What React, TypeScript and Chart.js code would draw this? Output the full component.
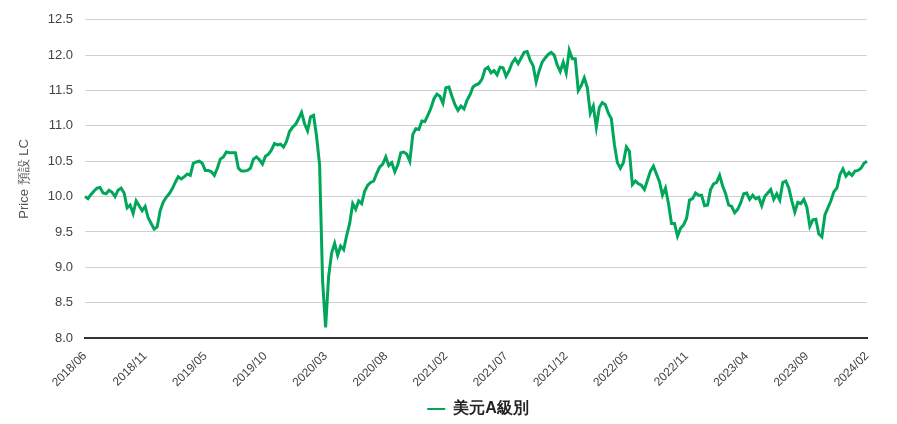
import React, { useEffect, useRef } from "react";
import { Chart, registerables } from "chart.js";

Chart.register(...registerables);

const seriesName = "美元A級別";
const yAxisTitle = "Price 預設 LC";

const tickLabels = [
  "2018/06", "2018/11", "2019/05", "2019/10", "2020/03", "2020/08", "2021/02",
  "2021/07", "2021/12", "2022/05", "2022/11", "2023/04", "2023/09", "2024/02",
];

// NAV readings, evenly spaced in time from 2018/06 to 2024/02
const navValues = [
  10.00, 9.97, 10.03, 10.08, 10.12, 10.13, 10.05, 10.04, 10.09, 10.06,
  10.00, 10.09, 10.12, 10.05, 9.84, 9.88, 9.76, 9.94, 9.87, 9.80,
  9.86, 9.70, 9.62, 9.54, 9.57, 9.80, 9.92, 9.99, 10.04, 10.11,
  10.20, 10.28, 10.25, 10.28, 10.32, 10.30, 10.47, 10.49, 10.50, 10.47,
  10.37, 10.37, 10.35, 10.30, 10.40, 10.53, 10.56, 10.63, 10.62, 10.62,
  10.62, 10.40, 10.36, 10.36, 10.37, 10.40, 10.53, 10.56, 10.52, 10.46,
  10.57, 10.60, 10.66, 10.75, 10.73, 10.74, 10.70, 10.78, 10.92, 10.98,
  11.02, 11.10, 11.19, 11.03, 10.93, 11.13, 11.15, 10.85, 10.45, 8.80,
  8.15, 8.87, 9.20, 9.34, 9.17, 9.30, 9.25, 9.45, 9.62, 9.90,
  9.82, 9.94, 9.90, 10.08, 10.16, 10.20, 10.22, 10.33, 10.42, 10.46,
  10.56, 10.44, 10.48, 10.35, 10.45, 10.62, 10.63, 10.60, 10.50, 10.88,
  10.96, 10.95, 11.07, 11.06, 11.15, 11.25, 11.38, 11.45, 11.42, 11.32,
  11.54, 11.55, 11.42, 11.30, 11.22, 11.28, 11.24, 11.36, 11.44, 11.55,
  11.58, 11.60, 11.66, 11.80, 11.83, 11.75, 11.78, 11.72, 11.83, 11.82,
  11.70, 11.78, 11.89, 11.95, 11.88, 11.96, 12.04, 12.05, 11.93, 11.85,
  11.62, 11.78, 11.90, 11.96, 12.01, 12.04, 12.00, 11.86, 11.77, 11.90,
  11.75, 12.07, 11.95, 11.95, 11.50, 11.57, 11.68, 11.54, 11.18, 11.28,
  10.98, 11.26, 11.33, 11.30, 11.18, 11.10, 10.74, 10.48, 10.40, 10.48,
  10.70, 10.64, 10.17, 10.22, 10.18, 10.16, 10.10, 10.23, 10.36, 10.43,
  10.32, 10.21, 10.02, 10.12, 9.90, 9.62, 9.62, 9.44, 9.55, 9.60,
  9.69, 9.95, 9.97, 10.05, 10.02, 10.02, 9.87, 9.88, 10.10, 10.18,
  10.20, 10.30, 10.15, 10.04, 9.88, 9.86, 9.77, 9.82, 9.91, 10.04,
  10.05, 9.96, 10.02, 9.97, 9.99, 9.87, 10.00, 10.05, 10.10, 9.96,
  10.04, 9.95, 10.20, 10.22, 10.12, 9.94, 9.78, 9.92, 9.90, 9.96,
  9.85, 9.58, 9.67, 9.68, 9.47, 9.43, 9.74, 9.84, 9.94, 10.07,
  10.12, 10.31, 10.39, 10.29, 10.34, 10.30, 10.36, 10.37, 10.40, 10.47,
  10.50,
];

const yMin = 8.0;
const yMax = 12.5;
const yStep = 0.5;

// Centre the legend under the plot area and nudge it down a little.
const legendPlacement = {
  id: "legendPlacement",
  afterLayout(chart: any) {
    const lg = chart.legend;
    if (!lg) return;
    lg.left = chart.chartArea.left + 4;
    lg.right = chart.chartArea.right;
    lg.top += 3;
    lg.bottom += 3;
  },
};

export default function App() {
  const canvasRef = useRef<HTMLCanvasElement | null>(null);

  useEffect(() => {
    document.body.style.margin = "0";
    const canvas = canvasRef.current;
    if (!canvas) return;
    const n = navValues.length;
    const perTick = (n - 1) / (tickLabels.length - 1);
    const categories = navValues.map((_, i) => String(i));
    const font = 'Arial, "Liberation Sans", Helvetica, sans-serif';

    const chart = new Chart(canvas, {
      type: "line",
      data: {
        labels: categories,
        datasets: [
          {
            label: seriesName,
            data: navValues,
            borderColor: "#00a65a",
            backgroundColor: "#00a65a",
            borderWidth: 3,
            pointRadius: 0,
            pointHoverRadius: 0,
            tension: 0,
            fill: false,
          },
        ],
      },
      plugins: [legendPlacement],
      options: {
        animation: false,
        responsive: true,
        maintainAspectRatio: false,
        layout: { padding: { top: 15, right: 30, left: 0, bottom: 0 } },
        plugins: {
          tooltip: { enabled: false },
          legend: {
            display: true,
            position: "bottom",
            labels: {
              usePointStyle: true,
              pointStyle: "line",
              pointStyleWidth: 18,
              color: "#222",
              padding: 10,
              font: { family: font, size: 16, weight: "bold" },
              generateLabels: (c: any) => {
                const items = (Chart.defaults.plugins.legend.labels as any).generateLabels(c);
                items.forEach((it: any) => { it.lineWidth = 2; });
                return items;
              },
            },
          },
        },
        scales: {
          x: {
            type: "category",
            offset: false,
            grid: { display: false, drawTicks: false },
            border: { display: true, color: "#333", width: 2 },
            afterFit: (scale: any) => { scale.height = 50; },
            ticks: {
              autoSkip: false,
              maxRotation: 45,
              minRotation: 45,
              padding: 11,
              color: "#444",
              font: { family: font, size: 12 },
              callback: (_v: any, index: number) => {
                const k = index / perTick;
                return Number.isInteger(k) ? tickLabels[k] : null;
              },
            },
          },
          y: {
            type: "linear",
            min: yMin,
            max: yMax,
            grid: { color: "#d0d0d0", lineWidth: 1, drawTicks: false },
            border: { display: false },
            afterFit: (scale: any) => { scale.width = 85; },
            title: {
              display: true,
              text: yAxisTitle,
              color: "#555",
              font: { family: font, size: 13 },
              padding: { top: 17, bottom: 0 },
            },
            ticks: {
              stepSize: yStep,
              padding: 12,
              color: "#444",
              font: { family: font, size: 13 },
              callback: (v: any) => Number(v).toFixed(1),
            },
          },
        },
      },
    });
    return () => chart.destroy();
  }, []);

  return (
    <div style={{ width: 897, height: 424, position: "relative" }}>
      <canvas ref={canvasRef} />
    </div>
  );
}
